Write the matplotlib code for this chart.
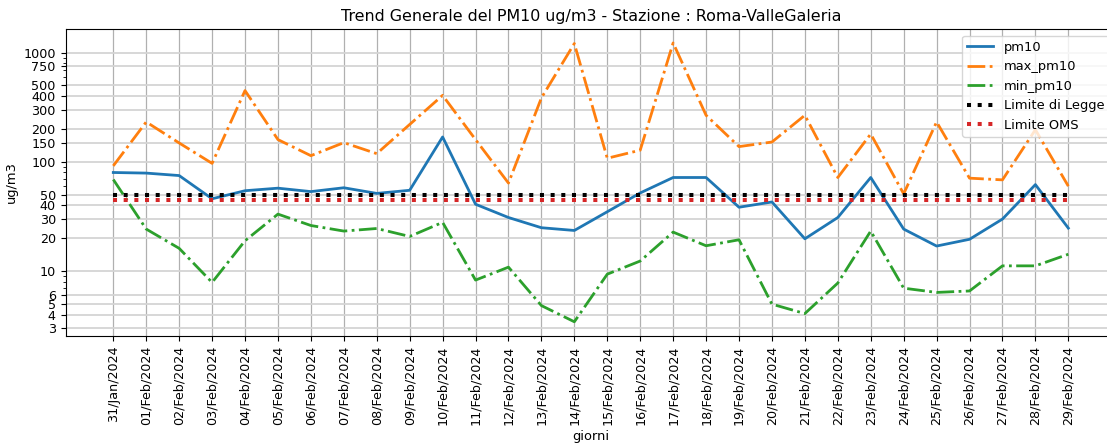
import numpy as np
import pandas as pd
import matplotlib
matplotlib.use('Agg')
import matplotlib.pyplot as plt

plt.rcParams['font.family'] = 'DejaVu Sans'
plt.rcParams['font.size'] = 9.4
plt.rcParams['xtick.labelsize'] = 9.2
plt.rcParams['ytick.labelsize'] = 9.2
plt.rcParams['legend.fontsize'] = 9.4

# giorni (31 gen - 29 feb 2024)
giorni = ['31/Jan/2024'] + ['%02d/Feb/2024' % d for d in range(1, 30)]

pm10 = [80, 79, 75, 46, 54.5, 57.5, 53.5, 58, 51.5, 55,
        169, 41, 31, 25, 23.6, 35, 52, 72, 72, 38.5,
        43, 19.8, 31, 72, 24.3, 17, 19.6, 30, 62, 24.8]
max_pm10 = [92, 232, 149, 97, 449, 160, 114, 150, 119, 220,
            406, 160, 64, 385, 1210, 108, 128, 1225, 267, 138,
            152, 267, 72, 180, 51, 232, 71, 68.5, 197, 60]
min_pm10 = [69, 24.3, 16.2, 7.9, 19, 33.3, 26.2, 23.3, 24.6, 20.8,
            28, 8.3, 10.9, 4.85, 3.45, 9.4, 12.4, 22.8, 17.1, 19.4,
            5.0, 4.1, 7.8, 23.3, 7.0, 6.4, 6.6, 11.2, 11.2, 14.3]
limite_legge = 50
limite_oms = 45

y_ticks = [3, 4, 5, 6, 10, 20, 30, 40, 50, 100, 150, 200, 300, 400, 500, 750, 1000]

dates = pd.to_datetime(giorni, format='%d/%b/%Y')

fig = plt.figure(figsize=(11.07, 4.44), dpi=100)
ax = fig.add_axes([0.0592, 0.2439, 0.949, 0.6908])

ax.plot(dates, pm10, color='#1f77b4', lw=2, label='pm10')
ax.plot(dates, max_pm10, color='#ff7f0e', lw=2, ls='-.', label='max_pm10')
ax.plot(dates, min_pm10, color='#2ca02c', lw=2, ls='-.', label='min_pm10')
ax.plot(dates, [limite_legge] * len(dates), color='black', lw=2.9, ls=':', label='Limite di Legge')
ax.plot(dates, [limite_oms] * len(dates), color='#d62728', lw=2.9, ls=':', label='Limite OMS')

ax.set_yscale('log')
ax.set_yticks(y_ticks)
ax.set_yticklabels([str(t) for t in y_ticks])
ax.set_xticks(dates)
ax.set_xticklabels(giorni, rotation=90)

ax.grid(axis='x', color='#b0b0b0', lw=0.9)
ax.grid(axis='y', which='major', color='#d4d4d4', lw=1.3)

ax.set_title('Trend Generale del PM10 ug/m3 - Stazione : Roma-ValleGaleria', fontsize=11.4)
ax.set_xlabel('giorni')
ax.set_ylabel('ug/m3')
ax.legend(loc='upper right')

fig.savefig('out.png', dpi=100)
